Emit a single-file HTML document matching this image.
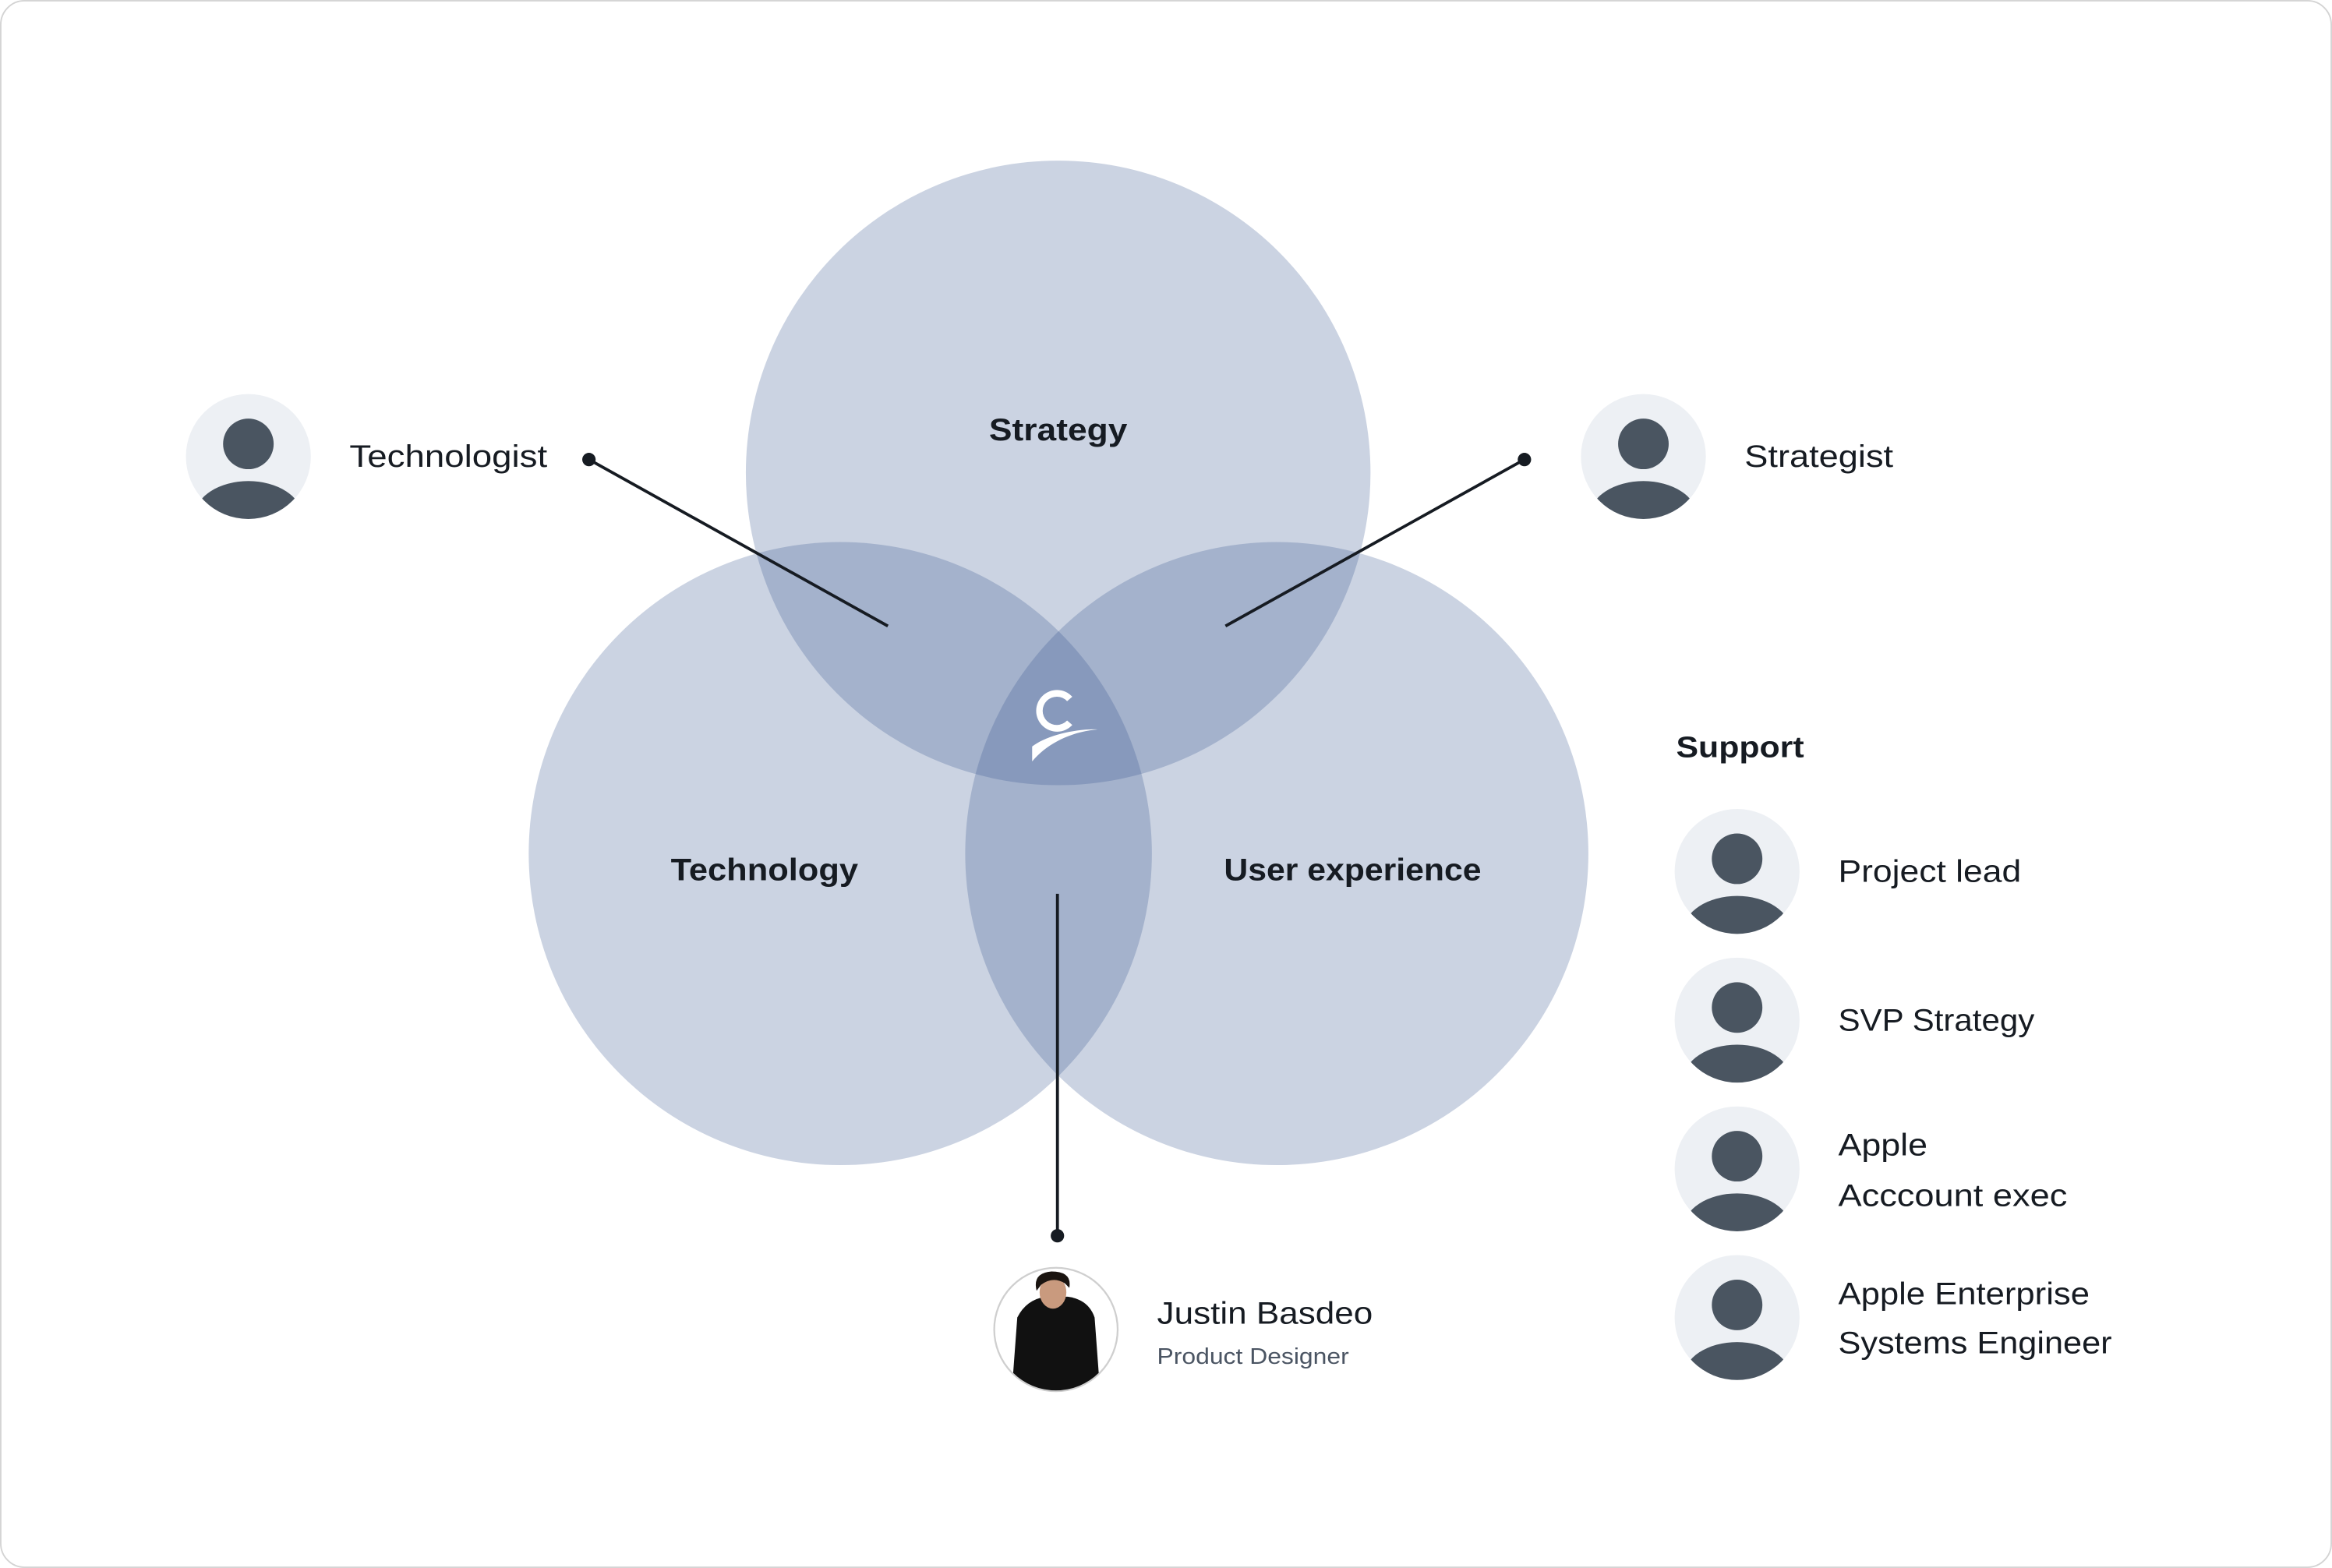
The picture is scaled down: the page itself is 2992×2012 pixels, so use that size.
<!DOCTYPE html>
<html><head><meta charset="utf-8"><style>
html,body{margin:0;padding:0;background:#fff}
svg{display:block}
text{font-family:"Liberation Sans",sans-serif;fill:#161b22}
</style></head><body>
<svg width="2992" height="2012" viewBox="0 0 1568 1054.4" xmlns="http://www.w3.org/2000/svg">
<defs>
<g id="av">
<circle cx="0" cy="0" r="42" fill="#edf0f4"/>
<clipPath id="cc"><circle cx="0" cy="0" r="42"/></clipPath>
<ellipse cx="0" cy="-8.5" rx="17" ry="17" fill="#4a5561"/>
<ellipse cx="0" cy="40" rx="36" ry="23.5" fill="#4a5561" clip-path="url(#cc)"/>
</g>
<clipPath id="pc"><circle cx="710" cy="894" r="41"/></clipPath>
</defs>
<rect x="0.5" y="0.5" width="1567" height="1053.4" rx="16" fill="#fff" stroke="#d4d4d4" stroke-width="1"/>

<g fill="rgb(47,79,139)" fill-opacity="0.25">
<circle cx="711.5" cy="318" r="210"/>
<circle cx="565" cy="574" r="209.5"/>
<circle cx="858.5" cy="574" r="209.5"/>
</g>

<!-- logo -->
<g fill="#fff">
<path d="M721 468.5 A14 14 0 1 0 721 487.5 L717.5 484.5 A9.5 9.5 0 1 1 717.5 471.5 Z"/>
<path d="M694 512 C704 500 720 492 738 490.5 C722 490 703 495 694 502 Z"/>
</g>

<text x="665" y="296" font-size="21" font-weight="bold" textLength="93" lengthAdjust="spacingAndGlyphs">Strategy</text>
<text x="451" y="592" font-size="21" font-weight="bold" textLength="126" lengthAdjust="spacingAndGlyphs">Technology</text>
<text x="823" y="592" font-size="21" font-weight="bold" textLength="173" lengthAdjust="spacingAndGlyphs">User experience</text>

<g stroke="#161b22" stroke-width="2">
<line x1="396" y1="309" x2="597" y2="421"/>
<line x1="1025" y1="309" x2="824" y2="421"/>
<line x1="711" y1="601" x2="711" y2="831"/>
</g>
<g fill="#161b22">
<circle cx="396" cy="309" r="4.5"/>
<circle cx="1025" cy="309" r="4.5"/>
<circle cx="711" cy="831" r="4.5"/>
</g>

<use href="#av" x="167" y="307"/>
<text x="235" y="314" font-size="21" textLength="133" lengthAdjust="spacingAndGlyphs">Technologist</text>
<use href="#av" x="1105" y="307"/>
<text x="1173" y="314" font-size="21" textLength="100" lengthAdjust="spacingAndGlyphs">Strategist</text>

<text x="1127" y="509" font-size="20" font-weight="bold" textLength="86" lengthAdjust="spacingAndGlyphs">Support</text>
<use href="#av" x="1168" y="586"/>
<text x="1236" y="593" font-size="21" textLength="123" lengthAdjust="spacingAndGlyphs">Project lead</text>
<use href="#av" x="1168" y="686"/>
<text x="1236" y="693" font-size="21" textLength="132" lengthAdjust="spacingAndGlyphs">SVP Strategy</text>
<use href="#av" x="1168" y="786"/>
<text x="1236" y="777" font-size="21" textLength="60" lengthAdjust="spacingAndGlyphs">Apple</text>
<text x="1236" y="811" font-size="21" textLength="154" lengthAdjust="spacingAndGlyphs">Acccount exec</text>
<use href="#av" x="1168" y="886"/>
<text x="1236" y="877" font-size="21" textLength="169" lengthAdjust="spacingAndGlyphs">Apple Enterprise</text>
<text x="1236" y="910" font-size="21" textLength="184" lengthAdjust="spacingAndGlyphs">Systems Engineer</text>

<circle cx="710" cy="894" r="41.5" fill="#fff" stroke="#cfcfcf" stroke-width="1.2"/>
<g clip-path="url(#pc)">
<path d="M680 940 L684 886 Q690 874 703 872 L718 872 Q732 874 736 886 L740 940 Z" fill="#111"/>
<ellipse cx="708" cy="869" rx="9" ry="11" fill="#c99a7e"/>
<path d="M697 868 Q694 856 707 855 Q721 855 719 866 L716 863 Q708 858 700 864 Z" fill="#1a1410"/>
</g>
<text x="778" y="890" font-size="21" textLength="145" lengthAdjust="spacingAndGlyphs">Justin Basdeo</text>
<text x="778" y="917" font-size="15" style="fill:#4b5563" textLength="129" lengthAdjust="spacingAndGlyphs">Product Designer</text>
</svg>
</body></html>
